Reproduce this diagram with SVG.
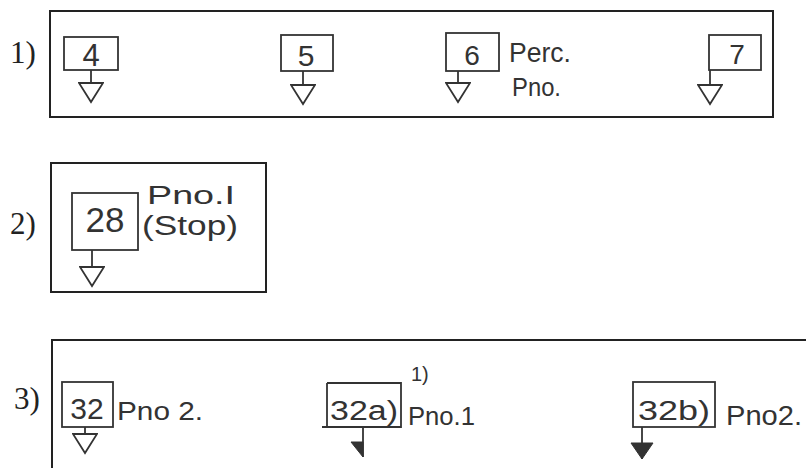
<svg xmlns="http://www.w3.org/2000/svg" width="806" height="468" viewBox="0 0 806 468">
<style>
.frame{fill:none;stroke:#222;stroke-width:2}
.box{fill:none;stroke:#333;stroke-width:1.8}
.stem{fill:none;stroke:#333;stroke-width:1.8}
.num{font-family:"Liberation Sans",Arial,sans-serif;fill:#333;text-anchor:middle}
.lbl{font-family:"Liberation Sans",Arial,sans-serif;fill:#333}
.sec{font-family:"Liberation Serif","Times New Roman",serif;font-size:31px;fill:#222}
</style>
<defs>
<marker id="open" markerUnits="userSpaceOnUse" markerWidth="26" markerHeight="22" viewBox="-1 -1 26 22" refX="12" refY="0" orient="0">
<path d="M0,0 L24,0 L12,19 Z" fill="#fff" stroke="#333" stroke-width="1.8"/>
</marker>
<marker id="halfFill" markerUnits="userSpaceOnUse" markerWidth="16" markerHeight="18" viewBox="-1 -1 16 18" refX="12" refY="15" orient="0">
<path d="M0,0 L12,0 L12,15 Z" fill="#333" stroke="#333" stroke-width="1"/>
</marker>
<marker id="fill" markerUnits="userSpaceOnUse" markerWidth="24" markerHeight="20" viewBox="-1 -1 24 20" refX="11" refY="16" orient="0">
<path d="M0,0 L22,0 L11,16 Z" fill="#333" stroke="#333" stroke-width="1"/>
</marker>
</defs>

<g id="panel1">
<rect class="frame" x="50" y="11" width="723" height="106"/>
<text class="sec" x="10" y="63">1)</text>
</g>
<g id="panel2">
<rect class="frame" x="51" y="163" width="215" height="129"/>
<text class="sec" x="10" y="234">2)</text>
</g>
<g id="panel3">
<path class="frame" d="M52,470 L52,340 L810,340"/>
<text class="sec" x="14" y="409">3)</text>
</g>

<g id="node-4">
<rect class="box" x="64" y="37" width="54" height="33"/>
<text class="num" x="91" y="66" font-size="31">4</text>
</g>
<g id="node-5">
<rect class="box" x="281" y="35" width="52" height="36"/>
<text class="num" x="306" y="66" font-size="30">5</text>
</g>
<g id="node-6">
<rect class="box" x="446" y="33" width="53" height="38"/>
<text class="num" x="472" y="65" font-size="28">6</text>
<text class="lbl" x="509" y="62" font-size="27" textLength="62" lengthAdjust="spacingAndGlyphs">Perc.</text>
<text class="lbl" x="512" y="96" font-size="25" textLength="49" lengthAdjust="spacingAndGlyphs">Pno.</text>
</g>
<g id="node-7">
<rect class="box" x="709" y="35" width="52" height="35"/>
<text class="num" x="737" y="64" font-size="28">7</text>
</g>
<g id="node-28">
<rect class="box" x="72" y="193" width="66" height="57"/>
<text class="num" x="105" y="232" font-size="35">28</text>
<text class="lbl" x="147" y="204" font-size="26" textLength="88" lengthAdjust="spacingAndGlyphs">Pno.I</text>
<text class="lbl" x="142" y="235" font-size="27" textLength="96" lengthAdjust="spacingAndGlyphs">(Stop)</text>
</g>
<g id="node-32">
<rect class="box" x="62" y="382" width="51" height="45"/>
<text class="num" x="87" y="419" font-size="30">32</text>
<text class="lbl" x="117" y="420" font-size="26" textLength="86" lengthAdjust="spacingAndGlyphs">Pno 2.</text>
</g>
<g id="node-32a">
<path class="box" d="M327,383 L401,383 L401,427 L322,427 M327,383 L327,427"/>
<text class="num" x="364" y="420" font-size="27" textLength="68" lengthAdjust="spacingAndGlyphs">32a)</text>
<text class="lbl" x="411" y="381" font-size="20">1)</text>
<text class="lbl" x="408" y="425" font-size="26" textLength="67" lengthAdjust="spacingAndGlyphs">Pno.1</text>
</g>
<g id="node-32b">
<rect class="box" x="633" y="382" width="82" height="45"/>
<text class="num" x="674" y="420" font-size="27" textLength="72" lengthAdjust="spacingAndGlyphs">32b)</text>
<text class="lbl" x="726" y="425" font-size="28" textLength="76" lengthAdjust="spacingAndGlyphs">Pno2.</text>
</g>

<g id="connectors">
<line class="stem" x1="91" y1="70" x2="91" y2="83" marker-end="url(#open)"/>
<line class="stem" x1="303" y1="71" x2="303" y2="85" marker-end="url(#open)"/>
<line class="stem" x1="458" y1="71" x2="458" y2="83" marker-end="url(#open)"/>
<line class="stem" x1="710" y1="70" x2="710" y2="85" marker-end="url(#open)"/>
<line class="stem" x1="92" y1="250" x2="92" y2="267" marker-end="url(#open)"/>
<line class="stem" x1="85" y1="427" x2="85" y2="434" marker-end="url(#open)"/>
<line class="stem" x1="363" y1="427" x2="363" y2="457" marker-end="url(#halfFill)"/>
<line class="stem" x1="642" y1="427" x2="642" y2="459" marker-end="url(#fill)"/>
</g>
</svg>
